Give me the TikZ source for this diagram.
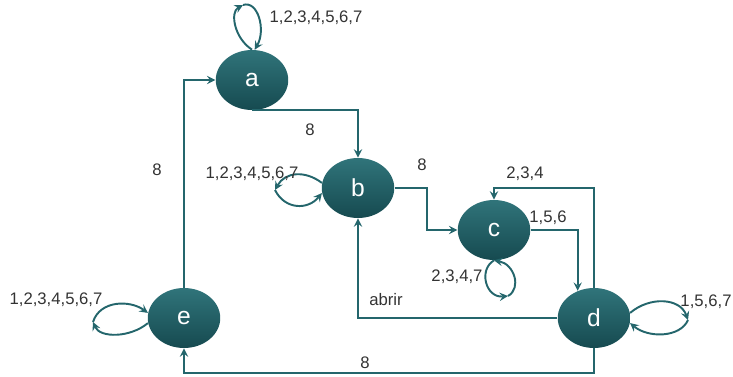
\documentclass[tikz,border=0pt]{standalone}
\usepackage{fontspec}
\setmainfont{Liberation Sans}
\usetikzlibrary{shapes.geometric, arrows}
\definecolor{stateTop}{RGB}{48,116,122}
\definecolor{stateBottom}{RGB}{22,74,80}
\definecolor{edgeTeal}{RGB}{36,102,108}
\tikzstyle{stateNode} = [shape=ellipse, draw=none, text=white, top color=stateTop,
	bottom color=stateBottom, minimum width=1.45cm, minimum height=1.2cm,
	inner sep=0pt, font=\fontsize{14}{16}\selectfont]
\tikzstyle{normalArrow} = [line width=1.1pt,->,>=stealth, draw=edgeTeal]
\tikzstyle{edgeLabel} = [text=black!80, inner sep=1pt, font=\fontsize{9.5}{11}\selectfont]

\begin{document}
\begin{tikzpicture}[x=0.02cm, y=0.02cm]
	\useasboundingbox (0,0) rectangle (733,-376);
	\node (a) at (252,-80) [stateNode] {a};
	\node (b) at (358,-188) [stateNode] {b};
	\node (c) at (494,-230) [stateNode] {c};
	\node (d) at (594,-318) [stateNode] {d};
	\node (e) at (184,-318) [stateNode] {e};

	% transitions between states
	\draw [normalArrow] (a.south) -| (b.north);
	\draw [normalArrow] (b.east) -- ++(32,0) |- (c.west);
	\draw [normalArrow] (c.east) -| (d.121);
	\draw [normalArrow] (d.north) -- ++(0,100) -| (c.north);
	\draw [normalArrow] (d.west) -| (b.south);
	\draw [normalArrow] (d.south) -- ++(0,-25) -| (e.south);
	\draw [normalArrow] (e.north) |- (a.west);

	\node (lab1) at (310,-130) [edgeLabel] {8};
	\node (lab2) at (422,-165) [edgeLabel] {8};
	\node (lab3) at (548,-218) [edgeLabel] {1,5,6};
	\node (lab4) at (525,-174) [edgeLabel] {2,3,4};
	\node (lab5) at (386,-300) [edgeLabel] {abrir};
	\node (lab6) at (365,-363) [edgeLabel] {8};
	\node (lab7) at (157,-170) [edgeLabel] {8};

	% self loops
	\coordinate (aTip) at (243,-5);
	\draw [normalArrow] (a.north) .. controls (234,-38) and (230,-12) .. (aTip);
	\draw [normalArrow] (aTip) .. controls (258,0) and (266,-30) .. (a.85);
	\node (lab8) at (316,-18) [edgeLabel] {1,2,3,4,5,6,7};

	\coordinate (bTip) at (275,-190);
	\draw [normalArrow] (b.172) .. controls (305,-170) and (285,-172) .. (bTip);
	\draw [normalArrow] (bTip) .. controls (285,-210) and (308,-210) .. (b.188);
	\node (lab9) at (252,-174) [edgeLabel] {1,2,3,4,5,6,7};

	\coordinate (cTip) at (508,-296);
	\draw [normalArrow] (c.south) .. controls (478,-270) and (486,-298) .. (cTip);
	\draw [normalArrow] (cTip) .. controls (522,-288) and (514,-264) .. (c.south);
	\node (lab10) at (457,-277) [edgeLabel] {2,3,4,7};

	\coordinate (dTip) at (688,-320);
	\draw [normalArrow] (d.8) .. controls (650,-296) and (680,-298) .. (dTip);
	\draw [normalArrow] (dTip) .. controls (680,-338) and (648,-338) .. (d.352);
	\node (lab11) at (706,-302) [edgeLabel] {1,5,6,7};

	\coordinate (eTip) at (93,-322);
	\draw [normalArrow] (e.188) .. controls (130,-338) and (100,-338) .. (eTip);
	\draw [normalArrow] (eTip) .. controls (100,-300) and (130,-300) .. (e.172);
	\node (lab12) at (56,-300) [edgeLabel] {1,2,3,4,5,6,7};
\end{tikzpicture}
\end{document}
